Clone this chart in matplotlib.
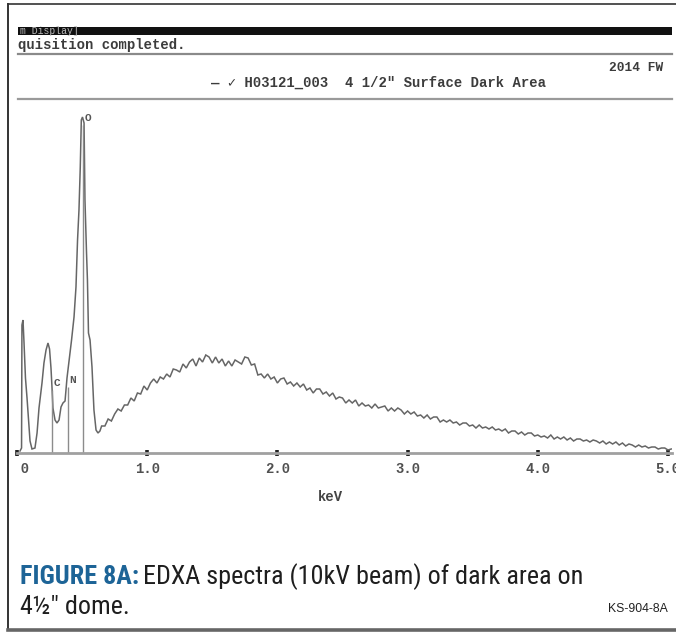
import numpy as np
import matplotlib
matplotlib.use("Agg")
import matplotlib.pyplot as plt
from matplotlib.patches import Rectangle
from matplotlib.lines import Line2D
from matplotlib.transforms import Bbox, TransformedBbox

# ---------------- data ----------------
# low-energy region: energies (keV) and counts (arbitrary units)
peak_kev = [0.023, 0.035, 0.038, 0.046, 0.054, 0.065, 0.077, 0.088, 0.100, 0.115,
            0.138, 0.154, 0.169, 0.192, 0.207, 0.223, 0.238, 0.250, 0.261, 0.269,
            0.276, 0.292, 0.307, 0.323, 0.338, 0.353, 0.369, 0.384, 0.400, 0.419,
            0.438, 0.453, 0.465, 0.476, 0.486, 0.494, 0.503, 0.515, 0.522, 0.534,
            0.541, 0.549, 0.561, 0.576, 0.591, 0.607, 0.622, 0.637]
peak_counts = [2, 5, 128, 133, 110, 75, 55, 35, 12, 4,
               5, 20, 45, 70, 90, 103, 110, 104, 85, 65,
               45, 33, 30, 33, 46, 50, 52, 75, 92, 113,
               136, 166, 213, 243, 286, 333, 336, 330, 253, 200,
               173, 120, 113, 86, 43, 23, 20, 22]

# continuum channels: start and width (keV)
cont_start = 0.65
cont_step = 0.025
cont_counts = [27, 27, 34, 32, 39, 44, 42, 48, 48, 55,
               52, 60, 59, 67, 63, 70, 74, 70, 76, 74,
               79, 76, 84, 83, 81, 89, 85, 91, 94, 87,
               95, 91, 98, 96, 90, 96, 90, 94, 87, 92,
               87, 93, 91, 89, 96, 95, 88, 89, 78, 79,
               75, 79, 74, 76, 70, 74, 75, 69, 71, 67,
               70, 66, 69, 63, 65, 60, 64, 64, 59, 61,
               57, 60, 54, 56, 55, 50, 53, 50, 53, 47,
               50, 47, 48, 45, 49, 45, 46, 47, 42, 45,
               42, 45, 43, 39, 42, 39, 41, 37, 38, 35,
               38, 34, 36, 36, 31, 33, 31, 33, 30, 31,
               28, 30, 30, 27, 28, 25, 28, 25, 26, 24,
               26, 23, 24, 22, 24, 20, 22, 22, 19, 21,
               18, 20, 20, 17, 18, 16, 17, 15, 18, 14,
               16, 14, 16, 13, 15, 12, 14, 14, 12, 13,
               11, 13, 12, 10, 12, 9, 11, 9, 11, 8,
               10, 7, 9, 8, 6, 8, 6, 7, 5, 6,
               6, 4, 5, 5, 3, 4]

# element markers
elements = ["C", "N", "O"]
element_kev = [0.270, 0.392, 0.507]
element_marker_height = [63, 66, 328]

tick_values = [0.0, 1.0, 2.0, 3.0, 4.0, 5.0]
tick_labels = ["0.0", "1.0", "2.0", "3.0", "4.0", "5.0"]

# ---------------- figure ----------------
W, H = 676, 632
fig = plt.figure(figsize=(W / 100, H / 100), dpi=100)
fig.patch.set_facecolor("white")


def fx(p):
    return p / W


def fy(p):
    return 1 - p / H


mono = ["Liberation Mono", "DejaVu Sans Mono", "DejaVu Sans"]
screen = "#3c3c3c"

# outer frame
fig.add_artist(Line2D([fx(8), fx(8)], [fy(4), fy(630)], color="#333333", lw=1.4))
fig.add_artist(Line2D([fx(8), fx(676)], [fy(4), fy(4)], color="#333333", lw=1.2))
fig.add_artist(Line2D([fx(8), fx(676)], [fy(629.5), fy(629.5)], color="#666666", lw=2.6))

# screen header
fig.add_artist(Rectangle((fx(18), fy(35)), fx(672) - fx(18), fy(27) - fy(35),
                         transform=fig.transFigure, color="#111111", lw=0))
fig.text(fx(20), fy(31), "m Display]", color="#bbbbbb", fontsize=7,
         family=mono, va="center", ha="left")
fig.text(fx(18), fy(45), "quisition completed.", color=screen, fontsize=10,
         family=mono, weight="bold", va="center", ha="left")
fig.add_artist(Line2D([fx(18), fx(672)], [fy(54), fy(54)], color="#8a8a8a", lw=1.6))
fig.text(fx(663), fy(68), "2014 FW", color=screen, fontsize=9.3,
         family=mono, weight="bold", va="center", ha="right")
fig.text(fx(211), fy(83), "\u2014 \u2713 H03121_003  4 1/2\" Surface Dark Area",
         color=screen, fontsize=10, family=mono, weight="bold",
         va="center", ha="left")
fig.add_artist(Line2D([fx(18), fx(672)], [fy(99), fy(99)], color="#9a9a9a", lw=1.6))

# ---------------- spectrum axes ----------------
x_left, x_right, y_top, y_base = 17, 672, 99, 453
ax = fig.add_axes([fx(x_left), fy(y_base), fx(x_right) - fx(x_left), fy(y_top) - fy(y_base)])
ax.set_facecolor("none")
px_per_kev = 130.2
ax.set_xlim(0, (x_right - x_left) / px_per_kev)
ax.set_ylim(0, y_base - y_top)

cont_kev = cont_start + cont_step * np.arange(len(cont_counts))
kev = np.concatenate([peak_kev, cont_kev])
counts = np.concatenate([peak_counts, cont_counts])
ax.plot(kev, counts, color="#666666", lw=1.1, solid_joinstyle="miter")

for name, e, h in zip(elements, element_kev, element_marker_height):
    ax.vlines(e, 0, h, color="#8c8c8c", lw=1.0)
    ax.text(e + 0.012, h + 7, name, fontsize=8, family=mono, weight="bold",
            color="#555555", ha="left", va="center")

for s in ["top", "left", "right"]:
    ax.spines[s].set_visible(False)
ax.spines["bottom"].set_color("#a0a0a0")
ax.spines["bottom"].set_linewidth(2.0)
ax.set_yticks([])
ax.set_xticks(tick_values, tick_labels)
ax.tick_params(axis="x", direction="inout", length=5, width=2.6, color="#222222",
               pad=4, labelsize=10, labelcolor="#505050")
clipbox = TransformedBbox(Bbox([[fx(18), 0], [1.0, 1]]), fig.transFigure)
for t in ax.xaxis.get_major_ticks():
    t.label1.set_family(mono)
    t.label1.set_weight("bold")
    t.label1.set_clip_on(True)
    t.label1.set_clip_box(clipbox)
ax.set_xlabel("keV", fontsize=10, family=mono, weight="bold", color="#444444")
ax.xaxis.set_label_coords((330 - x_left) / (x_right - x_left), (y_base - 497) / (y_base - y_top))
ax.xaxis.label.set_va("center")

# ---------------- caption ----------------
cap = ["Roboto Condensed", "Open Sans Condensed", "Liberation Sans Narrow",
       "Liberation Sans", "DejaVu Sans"]
t1 = fig.text(fx(20), fy(584), "FIGURE 8A:", color="#1d6497", fontsize=18.8,
              family=cap, weight="bold", va="baseline", ha="left")
fig.canvas.draw()
bb = t1.get_window_extent()
fig.text((bb.x1 + 4) / W, fy(584), "EDXA spectra (10kV beam) of dark area on",
         color="#1e1e1e", fontsize=18.8, family=cap, va="baseline", ha="left")
fig.text(fx(20), fy(614), "4\u00bd\u2033 dome.", color="#1e1e1e", fontsize=18.8,
         family=cap, va="baseline", ha="left")
fig.text(fx(668), fy(612), "KS-904-8A", color="#222222", fontsize=8.8,
         family=["Liberation Sans", "DejaVu Sans"], va="baseline", ha="right")

fig.savefig("out.png", dpi=100)
